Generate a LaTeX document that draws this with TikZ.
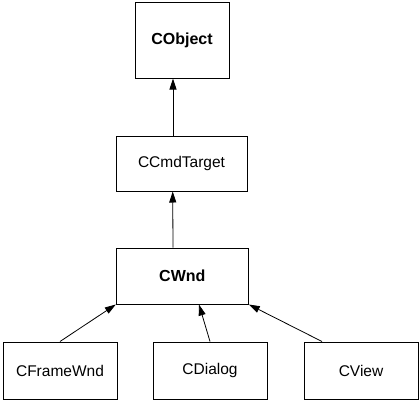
\documentclass[tikz,border=0pt]{standalone}
\usepackage{fontspec}
\setmainfont{Liberation Sans}
\usetikzlibrary{arrows.meta}
\begin{document}
\begin{tikzpicture}[x=1pt,y=-1pt,
		box/.style={draw, line width=1pt, inner sep=0pt, minimum width=114pt, minimum height=57pt, font=\fontsize{15.5}{18}\selectfont},
		inh/.style={-{Triangle[length=11pt,width=7pt]}, line width=0.8pt}]
	\useasboundingbox (0,0) rectangle (420,402);
	% Jerarquía de clases
	\node[box, font=\fontsize{16}{18}\selectfont\bfseries, minimum width=94pt, minimum height=76pt] (obj) at (182,40) {CObject};
	\node[box, minimum width=131pt, minimum height=55pt] (cmd) at (181.5,163.5) {CCmdTarget};
	\node[box, font=\fontsize{16}{18}\selectfont\bfseries, minimum width=132pt, minimum height=56pt] (wnd) at (182.3,276) {CWnd};
	
	% Clases derivadas de CWnd
	\node[box] (frame) at (60,370.5) {CFrameWnd};
	\node[box] (dlg) at (210,370.5) {CDialog};
	\node[box] (view) at (361,370.5) {CView};
	
	% Flechas de herencia
	\draw[inh] ([xshift=-8.5pt]cmd.north) -- ([xshift=-9pt]obj.south);
	\draw[inh] ([xshift=-9.3pt]wnd.north) -- ([xshift=-8.8pt]cmd.south);
	\draw[inh] (frame.north) -- (wnd.south west);
	\draw[inh] (dlg.north) -- ([xshift=16.7pt]wnd.south);
	\draw[inh] ([xshift=-39pt]view.north) -- (wnd.south east);
\end{tikzpicture}
\end{document}
